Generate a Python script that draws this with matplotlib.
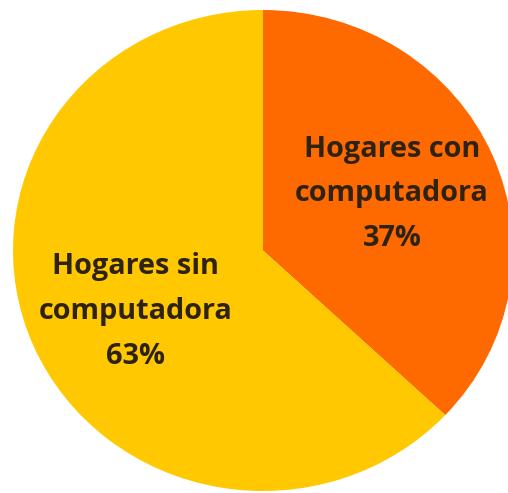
import matplotlib
matplotlib.use("Agg")
import matplotlib.pyplot as plt

categories = ["Hogares con\ncomputadora", "Hogares sin\ncomputadora"]
shares = [37, 63]
colors = ["#FF6A00", "#FFC800"]

fig = plt.figure(figsize=(5.08, 4.93), dpi=100)
fig.patch.set_facecolor("white")

W, H = 508, 493
# pie box in pixels: left, top, right, bottom
left, top, right, bottom = 13, 10, 513, 491
ax = fig.add_axes([left / W, (H - bottom) / H, (right - left) / W, (bottom - top) / H])

wedges, _ = ax.pie(shares, colors=colors, startangle=90, counterclock=False,
                   radius=1.0, wedgeprops=dict(linewidth=0))
ax.set_aspect("auto")
ax.set_xlim(-1, 1)
ax.set_ylim(-1, 1)
ax.axis("off")

label_pos = [(0.516, 0.235), (-0.51, -0.255)]
for cat, val, (x, y) in zip(categories, shares, label_pos):
    ax.text(x, y, f"{cat}\n{val}%", ha="center", va="center",
            fontsize=20.8, fontweight="bold", family="Open Sans",
            color="#2E2312", linespacing=1.72)

fig.savefig("out.png", dpi=100, facecolor="white")
